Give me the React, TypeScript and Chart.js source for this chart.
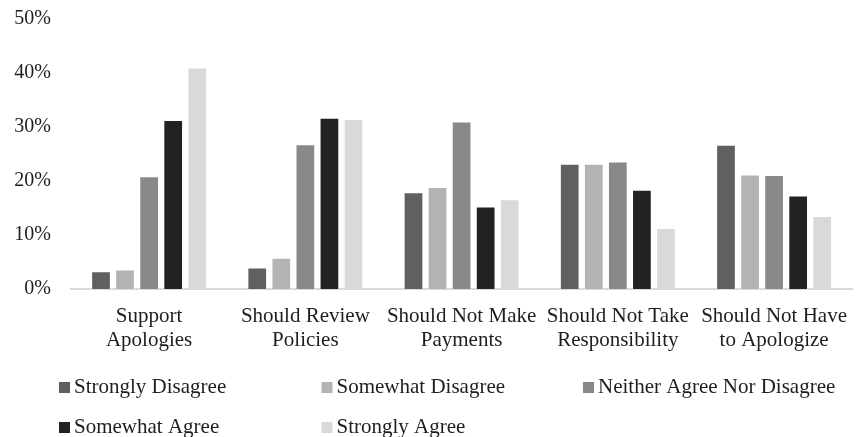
import React, { useEffect, useRef } from "react";
import { Chart, registerables } from "chart.js";

Chart.register(...registerables);

// Survey statements (x categories), each label split over two lines
const statements: string[][] = [
  ["Support", "Apologies"],
  ["Should Review", "Policies"],
  ["Should Not Make", "Payments"],
  ["Should Not Take", "Responsibility"],
  ["Should Not Have", "to Apologize"],
];

// Response shares in percent, one array per answer
const stronglyDisagree = [3.3, 4.0, 17.9, 23.2, 26.7];
const somewhatDisagree = [3.6, 5.8, 18.9, 23.2, 21.2];
const neitherAgreeNorDisagree = [20.9, 26.8, 31.0, 23.6, 21.1];
const somewhatAgree = [31.3, 31.7, 15.3, 18.4, 17.3];
const stronglyAgree = [41.0, 31.5, 16.6, 11.3, 13.5];

const responseLabels = [
  "Strongly Disagree",
  "Somewhat Disagree",
  "Neither Agree Nor Disagree",
  "Somewhat Agree",
  "Strongly Agree",
];
const responseColors = ["#606060", "#b3b3b3", "#898989", "#222222", "#d9d9d9"];

const percentTicks = [0, 10, 20, 30, 40, 50];

const FONT = "'Liberation Serif', 'Times New Roman', serif";
const TEXT = "#1e1e1e";

// Legend laid out in three fixed columns, two rows
const legendPlugin = {
  id: "gridLegend",
  afterDraw(chart: Chart) {
    const ctx = chart.ctx;
    const cols = [59, 321.5, 583];
    const rows = [393, 433];
    ctx.save();
    ctx.font = `21px ${FONT}`;
    ctx.textBaseline = "alphabetic";
    ctx.textAlign = "left";
    chart.data.datasets.forEach((ds, i) => {
      const x = cols[i % 3];
      const y = rows[Math.floor(i / 3)];
      ctx.fillStyle = ds.backgroundColor as string;
      ctx.fillRect(x, y - 11, 11, 11);
      ctx.fillStyle = TEXT;
      ctx.fillText(ds.label as string, x + 15, y);
    });
    ctx.restore();
  },
};

export default function App() {
  const canvasRef = useRef<HTMLCanvasElement | null>(null);

  useEffect(() => {
    if (!canvasRef.current) return;
    const series = [
      stronglyDisagree,
      somewhatDisagree,
      neitherAgreeNorDisagree,
      somewhatAgree,
      stronglyAgree,
    ];
    const chart = new Chart(canvasRef.current, {
      type: "bar",
      data: {
        labels: statements,
        datasets: series.map((values, i) => ({
          label: responseLabels[i],
          data: values,
          backgroundColor: responseColors[i],
          borderColor: "rgba(255,255,255,0.7)",
          borderWidth: 1,
          barPercentage: 0.82,
          categoryPercentage: 0.77,
        })),
      },
      options: {
        responsive: true,
        maintainAspectRatio: false,
        animation: false,
        layout: { padding: { top: 19, right: 0, bottom: 0, left: 0 } },
        plugins: {
          legend: { display: false },
          tooltip: { enabled: false },
        },
        scales: {
          x: {
            grid: { display: false, drawTicks: false },
            border: { display: true, color: "#d9d9d9", width: 2 },
            ticks: {
              color: TEXT,
              padding: 15,
              maxRotation: 0,
              autoSkip: false,
              font: { family: FONT, size: 21, lineHeight: 1.15 },
            },
            afterFit(scale: any) {
              scale.height = 148;
            },
          },
          y: {
            min: 0,
            max: 50,
            grid: { display: false, drawTicks: false },
            border: { display: false },
            afterBuildTicks(scale: any) {
              scale.ticks = percentTicks.map((v) => ({ value: v }));
            },
            ticks: {
              color: TEXT,
              padding: 20,
              font: { family: FONT, size: 20 },
              callback: (v: any) => `${v}%`,
            },
            afterFit(scale: any) {
              scale.width = 71;
              scale.paddingTop = 0;
              scale.paddingBottom = 0;
            },
          },
        },
      },
      plugins: [legendPlugin],
    });
    return () => chart.destroy();
  }, []);

  return (
    <div
      style={{
        position: "fixed",
        left: 0,
        top: 0,
        width: 862,
        height: 437,
        background: "#ffffff",
      }}
    >
      <canvas ref={canvasRef} />
    </div>
  );
}
